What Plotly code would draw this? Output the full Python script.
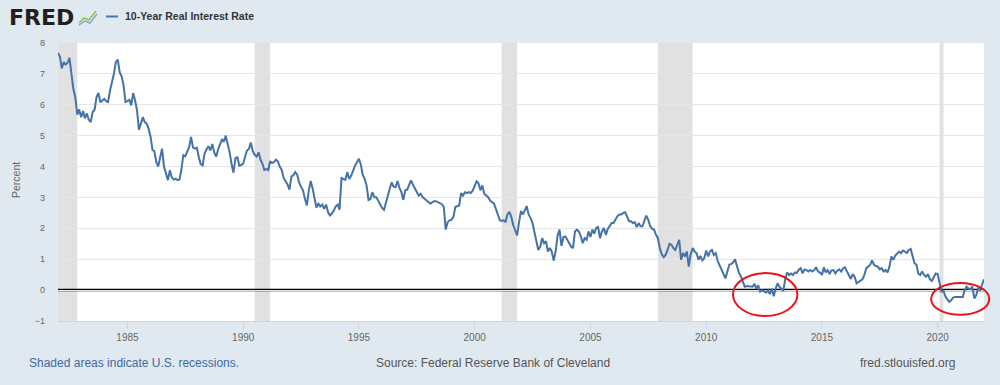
import pandas as pd
import plotly.graph_objects as go

# ---------------- data ----------------
series_name = "10-Year Real Interest Rate"
start_month = "1982-01-01"
real_rate = [
    7.68, 7.55, 7.18, 7.38, 7.30, 7.36, 7.52, 6.95, 6.50, 6.25, 5.68, 5.85,   # 1982
    5.60, 5.80, 5.56, 5.72, 5.52, 5.44, 5.76, 5.84, 6.25, 6.38, 6.08, 6.14,   # 1983
    6.19, 6.12, 6.09, 6.46, 6.73, 7.00, 7.38, 7.46, 7.05, 6.92, 6.62, 6.09,   # 1984
    6.12, 6.16, 5.98, 6.38, 6.14, 5.82, 5.19, 5.39, 5.60, 5.44, 5.39, 5.22,   # 1985
    4.96, 4.53, 4.50, 4.15, 4.00, 4.30, 4.58, 3.99, 3.80, 3.56, 3.88, 3.65,   # 1986
    3.58, 3.61, 3.56, 3.58, 3.88, 4.37, 4.33, 4.51, 4.63, 4.96, 4.62, 4.58,   # 1987
    4.61, 4.30, 4.08, 4.04, 4.42, 4.55, 4.66, 4.52, 4.73, 4.46, 4.32, 4.55,   # 1988
    4.75, 4.89, 4.80, 5.00, 4.73, 4.46, 4.09, 3.80, 4.28, 4.30, 4.03, 4.05,   # 1989
    4.10, 4.30, 4.52, 4.57, 4.78, 4.50, 4.38, 4.32, 4.46, 4.22, 4.09, 3.89,   # 1990
    3.92, 3.89, 4.17, 4.11, 4.14, 4.22, 4.17, 4.00, 3.89, 3.63, 3.53, 3.42,   # 1991
    3.25, 3.68, 3.71, 3.82, 3.74, 3.49, 3.35, 3.23, 2.96, 2.74, 3.23, 3.53,   # 1992
    3.28, 2.99, 2.67, 2.80, 2.71, 2.77, 2.63, 2.77, 2.52, 2.42, 2.48, 2.58,   # 1993
    2.71, 2.77, 2.60, 3.63, 3.60, 3.57, 3.82, 3.60, 3.71, 3.90, 4.03, 4.14,   # 1994
    4.25, 4.06, 3.74, 3.60, 3.40, 2.92, 2.95, 3.17, 3.01, 3.01, 2.90, 2.75,   # 1995
    2.66, 2.60, 2.85, 3.05, 3.28, 3.49, 3.35, 3.33, 3.53, 3.31, 3.17, 2.92,   # 1996
    3.23, 3.25, 3.39, 3.55, 3.42, 3.31, 3.17, 3.06, 3.12, 3.01, 2.96, 2.92,   # 1997
    2.85, 2.80, 2.84, 2.88, 2.88, 2.84, 2.80, 2.78, 2.69, 1.96, 2.20, 2.26,   # 1998
    2.28, 2.37, 2.69, 2.71, 2.74, 3.14, 3.06, 3.17, 3.14, 3.17, 3.14, 3.22,   # 1999
    3.40, 3.52, 3.46, 3.23, 3.39, 3.12, 3.06, 3.01, 2.90, 2.85, 2.80, 2.63,   # 2000
    2.45, 2.26, 2.24, 2.26, 2.20, 2.45, 2.53, 2.37, 2.10, 1.94, 1.77, 2.20,   # 2001
    2.56, 2.45, 2.59, 2.72, 2.45, 2.34, 2.17, 1.85, 1.52, 1.30, 1.41, 1.68,   # 2002
    1.52, 1.58, 1.25, 1.36, 1.25, 0.96, 1.25, 1.76, 1.96, 1.43, 1.72, 1.74,   # 2003
    1.63, 1.52, 1.41, 1.36, 1.90, 1.96, 1.90, 1.75, 1.52, 1.68, 1.63, 1.90,   # 2004
    1.72, 1.96, 1.83, 2.01, 2.04, 1.68, 1.90, 2.01, 1.79, 1.98, 2.07, 2.17,   # 2005
    2.17, 2.30, 2.39, 2.45, 2.45, 2.50, 2.52, 2.39, 2.23, 2.23, 2.17, 2.20,   # 2006
    2.04, 2.17, 2.07, 2.07, 2.23, 2.41, 2.28, 2.07, 1.98, 1.96, 1.79, 1.68,   # 2007
    1.35, 1.15, 1.07, 1.14, 1.30, 1.50, 1.47, 1.36, 1.30, 1.50, 1.63, 0.98,   # 2008
    1.20, 1.09, 1.25, 0.76, 1.15, 1.36, 1.25, 1.20, 0.98, 1.11, 0.96, 1.03,   # 2009
    1.28, 1.09, 1.25, 1.30, 1.14, 1.20, 0.95, 0.80, 0.65, 0.50, 0.38, 0.60,   # 2010
    0.82, 0.85, 0.89, 1.00, 0.76, 0.56, 0.45, 0.30, 0.11, 0.13, 0.13, 0.13,   # 2011
    0.11, 0.20, 0.05, 0.16, -0.05, 0.00, -0.05, -0.08, -0.02, -0.13, 0.05, -0.20,  # 2012
    0.05, 0.22, 0.11, 0.05, -0.02, 0.35, 0.57, 0.49, 0.54, 0.49, 0.57, 0.56,  # 2013
    0.66, 0.71, 0.54, 0.67, 0.65, 0.60, 0.65, 0.60, 0.65, 0.74, 0.60, 0.57,   # 2014
    0.49, 0.74, 0.57, 0.65, 0.52, 0.64, 0.65, 0.54, 0.63, 0.67, 0.60, 0.71,   # 2015
    0.74, 0.60, 0.50, 0.36, 0.52, 0.43, 0.22, 0.27, 0.30, 0.35, 0.49, 0.71,   # 2016
    0.76, 0.82, 0.96, 0.82, 0.78, 0.76, 0.67, 0.71, 0.60, 0.65, 0.57, 0.76,   # 2017
    1.09, 0.98, 1.11, 1.17, 1.25, 1.20, 1.28, 1.25, 1.20, 1.30, 1.33, 1.10,   # 2018
    0.87, 0.82, 0.54, 0.49, 0.60, 0.49, 0.43, 0.52, 0.35, 0.30, 0.43, 0.54,   # 2019
    0.52, 0.27, -0.05, -0.02, -0.20, -0.30, -0.38, -0.33, -0.24, -0.22, -0.22, -0.21,  # 2020
    -0.20, -0.22, 0.00, 0.11, 0.05, 0.03, 0.11, -0.27, -0.16, 0.05, 0.00, 0.16,  # 2021
    0.35,                                                                     # 2022
]

recession_starts = ["1981-08-01", "1990-07-01", "2001-03-01", "2007-12-01", "2020-02-01"]
recession_ends = ["1982-11-01", "1991-03-01", "2001-11-01", "2009-06-01", "2020-04-01"]

# highlighted periods (red ellipses): x in dates, y in percent
highlight_x0 = ["2011-02-28", "2019-09-20"]
highlight_x1 = ["2013-12-10", "2022-03-25"]
highlight_y0 = [-0.84, -0.80]
highlight_y1 = [0.55, 0.23]

x_range = ["1982-01-01", "2022-01-01"]
y_range = [-1, 8]
y_ticks = list(range(-1, 9))

header_text = "10-Year Real Interest Rate"
footer_left = "Shaded areas indicate U.S. recessions."
footer_mid = "Source: Federal Reserve Bank of Cleveland"
footer_right = "fred.stlouisfed.org"

# ---------------- figure ----------------
dates = pd.date_range(start_month, periods=len(real_rate), freq="MS")

W, H = 1000, 385
L, R, T, B = 58, 16, 43, 64
pw, ph = W - L - R, H - T - B


def px_x(px):
    return (px - L) / pw


def px_y(py):
    return (H - B - py) / ph


xr0, xr1 = pd.Timestamp(x_range[0]), pd.Timestamp(x_range[1])


def date_to_paper(d):
    return (pd.Timestamp(d) - xr0) / (xr1 - xr0)


def val_to_paper(v):
    return (v - y_range[0]) / (y_range[1] - y_range[0])


BG = "#e1e9f0"
LINE = "#4572a7"
FONT = "Liberation Sans, Arial, sans-serif"

fig = go.Figure()
fig.add_trace(go.Scatter(
    x=dates, y=real_rate, mode="lines", name=series_name,
    line=dict(color=LINE, width=2), hoverinfo="x+y", showlegend=False,
))

shapes = []
for s, e in zip(recession_starts, recession_ends):
    shapes.append(dict(type="rect", xref="x", yref="paper", x0=s, x1=e, y0=0, y1=1,
                       fillcolor="#e1e1e1", line=dict(width=0), layer="between"))
# zero reference line
shapes.append(dict(type="line", xref="paper", yref="y", x0=0, x1=1, y0=0, y1=0,
                   line=dict(color="black", width=2.5), layer="between"))
# red ellipses (paper refs so they are not clipped at the plot edge)
for a, b, c, d in zip(highlight_x0, highlight_x1, highlight_y0, highlight_y1):
    shapes.append(dict(type="circle", xref="paper", yref="paper",
                       x0=date_to_paper(a), x1=date_to_paper(b),
                       y0=val_to_paper(c), y1=val_to_paper(d),
                       line=dict(color="#e8141c", width=2), fillcolor="rgba(0,0,0,0)",
                       layer="above"))
# legend swatch
shapes.append(dict(type="line", xref="paper", yref="paper", x0=px_x(106), x1=px_x(118),
                   y0=px_y(16.5), y1=px_y(16.5), line=dict(color=LINE, width=2)))
# small FRED icon
shapes.append(dict(type="path", xref="paper", yref="paper",
                   path="M {} {} L {} {} L {} {} L {} {}".format(
                       px_x(79), px_y(23), px_x(84), px_y(18), px_x(89), px_y(20), px_x(96), px_y(11)),
                   line=dict(color="#8dc63f", width=1.5)))
shapes.append(dict(type="path", xref="paper", yref="paper",
                   path="M {} {} L {} {} L {} {} L {} {}".format(
                       px_x(79), px_y(25), px_x(85), px_y(21), px_x(90), px_y(23), px_x(97), px_y(14)),
                   line=dict(color="#7fa7d6", width=1.5)))

annotations = [
    dict(text="<b>FRED</b>", x=px_x(7), y=px_y(17.5), xref="paper", yref="paper",
         xanchor="left", yanchor="middle", showarrow=False,
         font=dict(family="DejaVu Sans, Arial Black, sans-serif", size=22, color="#231f20")),
    dict(text="<b>" + header_text + "</b>", x=px_x(123), y=px_y(16.5), xref="paper", yref="paper",
         xanchor="left", yanchor="middle", showarrow=False,
         font=dict(family=FONT, size=10.5, color="#333333")),
    dict(text="Percent", x=px_x(16), y=px_y(180), xref="paper", yref="paper",
         xanchor="center", yanchor="middle", textangle=-90, showarrow=False,
         font=dict(family=FONT, size=10.5, color="#666666")),
    dict(text=footer_left, x=px_x(27), y=px_y(363), xref="paper", yref="paper",
         xanchor="left", yanchor="middle", showarrow=False,
         font=dict(family=FONT, size=12, color="#3d6aa2")),
    dict(text=footer_mid, x=px_x(493), y=px_y(363), xref="paper", yref="paper",
         xanchor="center", yanchor="middle", showarrow=False,
         font=dict(family=FONT, size=12, color="#555555")),
    dict(text=footer_right, x=px_x(957), y=px_y(363), xref="paper", yref="paper",
         xanchor="right", yanchor="middle", showarrow=False,
         font=dict(family=FONT, size=12, color="#555555")),
]

fig.update_layout(
    width=W, height=H,
    margin=dict(l=L, r=R, t=T, b=B, pad=0),
    paper_bgcolor=BG, plot_bgcolor="white",
    font=dict(family=FONT, color="#666666"),
    shapes=shapes, annotations=annotations,
    showlegend=False,
    xaxis=dict(
        type="date", range=x_range, tick0="1985-01-01", dtick="M60", tickformat="%Y",
        showgrid=False, zeroline=False, showline=True, linecolor="#ccd6eb", linewidth=1,
        ticks="outside", ticklen=7, tickcolor="#ccd6eb", tickwidth=1,
        tickfont=dict(family=FONT, size=10, color="#666666"),
    ),
    yaxis=dict(
        range=y_range, tickvals=y_ticks, showgrid=True, gridcolor="#e6e6e6", gridwidth=1,
        zeroline=False, showline=False, ticks="", ticklabelstandoff=12,
        tickfont=dict(family=FONT, size=9, color="#666666"),
    ),
)

fig.write_html(
    "out.html",
    config={"displayModeBar": False},
    post_script="document.body.style.margin='0';document.body.style.padding='0';"
                "document.body.style.background='" + BG + "';"
                "document.documentElement.style.background='" + BG + "';",
)
